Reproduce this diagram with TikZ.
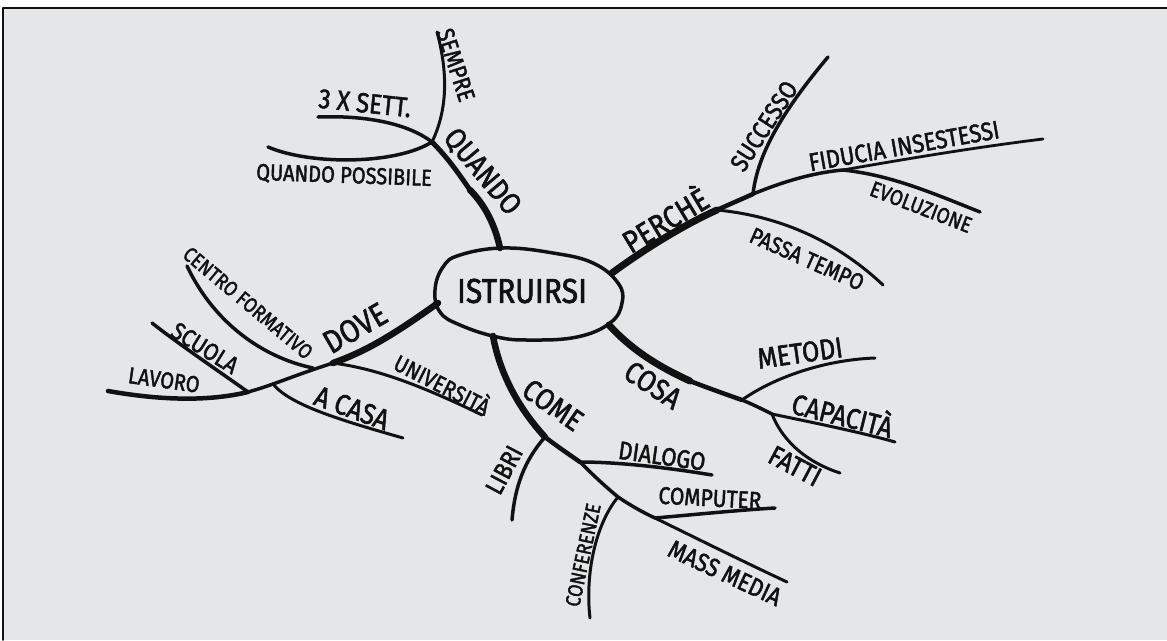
\documentclass[tikz,border=0pt]{standalone}
\usepackage{fontspec}
\setmainfont{Fira Sans}[FakeBold=2]
\definecolor{bgc}{HTML}{E5E6E8}
\definecolor{inkc}{HTML}{111111}
\newcommand{\hw}[1]{\scalebox{1}[1.15]{#1}}
\begin{document}
\begin{tikzpicture}[x=1pt,y=-1pt,line cap=round,line join=round,
  lab/.style={font=\fontsize{#1}{#1}\selectfont,inner sep=0pt,text=inkc},
  br/.style={draw=inkc,line width=#1}]
\path[use as bounding box] (0,0) rectangle (1167,640);
\fill[white] (0,0) rectangle (1167,640);
\fill[bgc] (3,8) rectangle (1167,640);
\draw[line width=1.5,inkc] (3,640) -- (3,8) -- (1167,8);

% central hub
\draw[inkc,line width=3.5] plot[smooth cycle,tension=0.7] coordinates
  {(435,290) (443,267) (460,255) (503,248) (553,253) (593,263) (618,283)
   (622,303) (610,323) (577,337) (530,340) (497,337) (460,325) (440,312)};
\node[lab=30] (c) at (522,291) {\hw{ISTRUIRSI}};

% roots on the hub outline
\coordinate (rq) at (500,248);
\coordinate (rp) at (612,273);
\coordinate (rk) at (609,325);
\coordinate (rm) at (493,336);
\coordinate (rd) at (438,303);

% ---------------- QUANDO
\coordinate (qm) at (470,190);
\coordinate (qj) at (432,142);
\coordinate (qse) at (437,32);
\coordinate (qst) at (318,117);
\coordinate (qpo) at (268,147);
\draw[br=6.5] (rq) .. controls (495,225) and (485,205) .. (qm);
\draw[br=5] (qm) .. controls (455,168) and (445,155) .. (qj);
\draw[br=3] (qj) .. controls (445,115) and (450,80) .. (qse);
\draw[br=3.5] (qj) .. controls (410,125) and (370,115) .. (qst);
\draw[br=3.5] (qj) .. controls (395,165) and (310,165) .. (qpo);
\node[lab=26,rotate=-50] (lq) at (482,172) {\hw{QUANDO}};
\node[lab=21,rotate=-72] (lse) at (456,65) {\hw{SEMPRE}};
\node[lab=24,rotate=-6] (lst) at (365,103) {\hw{3 X SETT.}};
\node[lab=20,rotate=-2] (lqp) at (344,176) {\hw{QUANDO POSSIBILE}};

% ---------------- PERCHE
\coordinate (pj1) at (717,210);
\coordinate (pj2) at (753,194);
\coordinate (pj3) at (843,170);
\coordinate (pfi) at (1043,139);
\coordinate (psu) at (828,57);
\coordinate (pev) at (980,212);
\coordinate (ppt) at (883,285);
\draw[br=7] (rp) .. controls (650,245) and (690,222) .. (pj1);
\draw[br=4.5] (pj1) .. controls (730,204) and (742,199) .. (pj2);
\draw[br=3.5] (pj2) .. controls (780,183) and (810,173) .. (pj3);
\draw[br=2.8] (pj3) .. controls (900,160) and (970,148) .. (pfi);
\draw[br=3.5] (pj2) .. controls (757,160) and (775,120) .. (psu);
\draw[br=3.5] (pj3) .. controls (890,175) and (930,192) .. (pev);
\draw[br=3] (pj1) .. controls (770,215) and (830,235) .. (ppt);
\node[lab=27,rotate=31] (lp) at (664,218) {\hw{PERCHÈ}};
\node[lab=22,rotate=57] (lsu) at (764,126) {\hw{SUCCESSO}};
\node[lab=22,rotate=10] (lfi) at (904,146) {\hw{FIDUCIA INSESTESSI}};
\node[lab=19,rotate=-21] (lev) at (921,207) {\hw{EVOLUZIONE}};
\node[lab=20,rotate=-24] (lpt) at (807,259) {\hw{PASSA TEMPO}};

% ---------------- DOVE
\coordinate (dju) at (333,363);
\coordinate (djc) at (313,368);
\coordinate (dja) at (273,384);
\coordinate (djs) at (248,392);
\coordinate (dla) at (108,391);
\coordinate (dsc) at (152,323);
\coordinate (dce) at (187,266);
\coordinate (dac) at (403,438);
\coordinate (dun) at (482,415);
\draw[br=6.5] (rd) .. controls (400,330) and (370,350) .. (dju);
\draw[br=3.5] (dju) .. controls (305,372) and (290,378) .. (dja);
\draw[br=3.5] (dja) .. controls (262,388) and (255,390) .. (djs);
\draw[br=4.5] (djs) .. controls (215,400) and (170,402) .. (dla);
\draw[br=3.5] (djs) .. controls (220,372) and (180,345) .. (dsc);
\draw[br=3.5] (djc) .. controls (265,358) and (215,325) .. (dce);
\draw[br=3] (dja) .. controls (290,405) and (340,420) .. (dac);
\draw[br=3] (dju) .. controls (370,368) and (410,380) .. (dun);
\node[lab=28,rotate=30] (ld) at (355,328) {\hw{DOVE}};
\node[lab=18,rotate=-40] (lce) at (248,303) {\hw{CENTRO FORMATIVO}};
\node[lab=21,rotate=-32] (lsc) at (205,348) {\hw{SCUOLA}};
\node[lab=20,rotate=-8] (lla) at (164,380) {\hw{LAVORO}};
\node[lab=25,rotate=-20] (lac) at (352,408) {\hw{A CASA}};
\node[lab=20,rotate=-27] (lun) at (443,383) {\hw{UNIVERSITÀ}};

% ---------------- COME
\coordinate (mj1) at (545,437);
\coordinate (mj2) at (580,462);
\coordinate (mj3) at (618,497);
\coordinate (mj4) at (655,518);
\coordinate (mme) at (787,582);
\coordinate (mli) at (512,520);
\coordinate (mdi) at (712,475);
\coordinate (mco) at (590,618);
\coordinate (mcp) at (775,508);
\draw[br=6.5] (rm) .. controls (500,375) and (520,410) .. (mj1);
\draw[br=4.5] (mj1) .. controls (558,447) and (570,455) .. (mj2);
\draw[br=3.5] (mj2) .. controls (595,477) and (606,487) .. (mj3);
\draw[br=3.5] (mj3) .. controls (630,505) and (642,512) .. (mj4);
\draw[br=3] (mj4) .. controls (700,540) and (740,560) .. (mme);
\draw[br=3.5] (mj1) .. controls (525,460) and (515,485) .. (mli);
\draw[br=3.5] (mj2) .. controls (620,462) and (670,468) .. (mdi);
\draw[br=3] (mj3) .. controls (595,525) and (585,575) .. (mco);
\draw[br=3.5] (mj4) .. controls (690,515) and (740,510) .. (mcp);
\node[lab=26,rotate=-35] (lm) at (553,405) {\hw{COME}};
\node[lab=22,rotate=62] (lli) at (504,470) {\hw{LIBRI}};
\node[lab=22,rotate=-8] (ldi) at (662,456) {\hw{DIALOGO}};
\node[lab=18,rotate=78] (lco) at (583,555) {\hw{CONFERENZE}};
\node[lab=21,rotate=-3] (lcp) at (710,498) {\hw{COMPUTER}};
\node[lab=22,rotate=-25] (lme) at (725,573) {\hw{MASS MEDIA}};

% ---------------- COSA
\coordinate (km) at (690,381);
\coordinate (kj1) at (742,400);
\coordinate (kj2) at (772,414);
\coordinate (kme) at (875,358);
\coordinate (kca) at (895,442);
\coordinate (kfa) at (840,473);
\draw[br=7] (rk) .. controls (630,348) and (655,365) .. (km);
\draw[br=4.5] (km) .. controls (708,388) and (725,394) .. (kj1);
\draw[br=3.5] (kj1) .. controls (752,404) and (762,409) .. (kj2);
\draw[br=3] (kj1) .. controls (770,380) and (820,360) .. (kme);
\draw[br=3] (kj2) .. controls (810,422) and (860,432) .. (kca);
\draw[br=3] (kj2) .. controls (780,435) and (800,460) .. (kfa);
\node[lab=26,rotate=-33] (lk) at (653,385) {\hw{COSA}};
\node[lab=25,rotate=8] (lmt) at (800,353) {\hw{METODI}};
\node[lab=25,rotate=-14] (lca) at (843,413) {\hw{CAPACITÀ}};
\node[lab=24,rotate=-28] (lfa) at (795,466) {\hw{FATTI}};
\end{tikzpicture}
\end{document}
